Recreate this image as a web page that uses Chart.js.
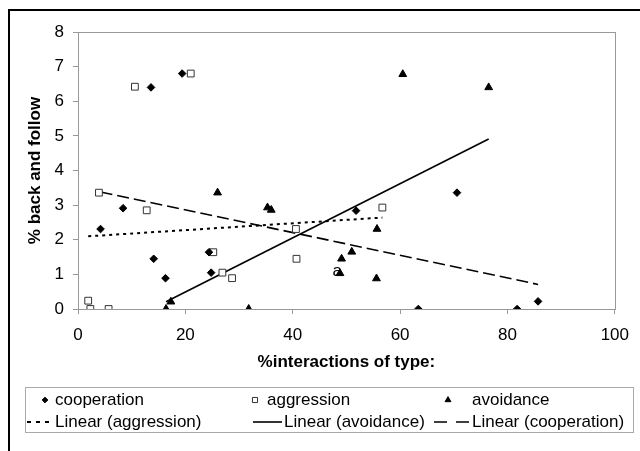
<!DOCTYPE html>
<html>
<head>
<meta charset="utf-8">
<script src="https://cdn.jsdelivr.net/npm/chart.js@4/dist/chart.umd.min.js"></script>
<style>
  html, body { margin: 0; padding: 0; background: #fff; }
  #wrap { width: 640px; height: 451px; }
</style>
</head>
<body>
<div id="wrap"><canvas id="chart" width="640" height="451"></canvas></div>
<script>
// values
const coopX = [19.4, 13.6, 8.4, 4.2, 14.1, 24.4, 16.3, 24.8, 51.8, 70.6, 63.4, 81.8, 85.7];
const coopY = [6.8, 6.4, 2.91, 2.31, 1.45, 1.64, 0.89, 1.05, 2.84, 3.36, 0, 0, 0.22];

const aggrX = [21.0, 10.6, 3.9, 12.8, 25.2, 26.9, 28.7, 1.9, 2.3, 5.7, 40.6, 40.7, 56.7];
const aggrY = [6.8, 6.42, 3.36, 2.85, 1.64, 1.05, 0.89, 0.24, 0, 0, 2.31, 1.45, 2.93];

const avoidX = [60.5, 76.5, 26.0, 35.3, 36.0, 16.4, 17.3, 31.8, 55.7, 51.0, 49.1, 48.8, 55.6];
const avoidY = [6.78, 6.4, 3.36, 2.93, 2.86, 0, 0.21, 0, 2.31, 1.65, 1.45, 1.03, 0.88];

// trend line end points
const aggrTrendX = [1.9, 56.7];
const aggrTrendY = [2.10, 2.64];
const avoidTrendX = [16.4, 76.5];
const avoidTrendY = [0.21, 4.91];
const coopTrendX = [4.2, 85.7];
const coopTrendY = [3.38, 0.71];

const xTicks = [0, 20, 40, 60, 80, 100];
const yTicks = [0, 1, 2, 3, 4, 5, 6, 7, 8];

const noteText = 'a';
const noteX = 48.3;
const noteY = 1.08;

const pts = (xs, ys) => xs.map((x, i) => ({ x: x, y: ys[i] }));

Chart.defaults.font.family = '"Liberation Sans", Arial, sans-serif';
Chart.defaults.color = '#000';

const frame = {
    id: 'frame',
    beforeDraw(chart) {
        const { ctx, chartArea: a } = chart;
        ctx.save();
        ctx.fillStyle = '#fff';
        ctx.fillRect(0, 0, chart.width, chart.height);
        // outer frame (only top and left are in view)
        ctx.strokeStyle = '#000';
        ctx.lineWidth = 2;
        ctx.beginPath();
        ctx.moveTo(9, chart.height);
        ctx.lineTo(9, 10);
        ctx.lineTo(chart.width, 10);
        ctx.stroke();
        // plot area border
        ctx.strokeStyle = '#999';
        ctx.lineWidth = 1;
        ctx.strokeRect(Math.round(a.left) + 0.5, Math.round(a.top) + 0.5, Math.round(a.width), Math.round(a.height));
        ctx.restore();
    },
    afterDatasetsDraw(chart) {
        const { ctx, scales } = chart;
        ctx.save();
        ctx.font = '17px "Liberation Sans", Arial, sans-serif';
        ctx.fillStyle = '#000';
        ctx.textAlign = 'center';
        ctx.textBaseline = 'middle';
        ctx.fillText(noteText, scales.x.getPixelForValue(noteX), scales.y.getPixelForValue(noteY));
        ctx.restore();
    },
    afterDraw(chart) {
        const ctx = chart.ctx;
        const sets = chart.data.datasets;
        ctx.save();
        ctx.strokeStyle = '#aaa';
        ctx.lineWidth = 1;
        ctx.strokeRect(25.5, 387.5, 608, 45);

        const slots = [
            { mx: 45, tx: 55, y: 400 },
            { mx: 255, tx: 267, y: 400 },
            { mx: 448, tx: 472, y: 400 },
            { l0: 27, l1: 51, tx: 55, y: 422 },
            { l0: 253, l1: 282, tx: 284, y: 422 },
            { l0: 434, l1: 469, tx: 472, y: 422 }
        ];
        ctx.font = '17px "Liberation Sans", Arial, sans-serif';
        ctx.textBaseline = 'middle';
        ctx.textAlign = 'left';
        sets.forEach((ds, i) => {
            const s = slots[i];
            if (ds.showLine) {
                ctx.save();
                ctx.strokeStyle = '#000';
                ctx.lineWidth = ds.borderWidth;
                ctx.setLineDash(ds.legendDash || []);
                ctx.beginPath();
                ctx.moveTo(s.l0, s.y);
                ctx.lineTo(s.l1, s.y);
                ctx.stroke();
                ctx.restore();
            } else {
                ctx.fillStyle = ds.backgroundColor;
                ctx.strokeStyle = ds.borderColor;
                ctx.lineWidth = 1;
                Chart.helpers.drawPoint(ctx, {
                    pointStyle: ds.pointStyle,
                    radius: ds.pointRadius * 0.75,
                    rotation: 0,
                    borderWidth: 1
                }, s.mx, s.y);
            }
            ctx.fillStyle = '#000';
            ctx.fillText(ds.label, s.tx, s.y);
        });
        ctx.restore();
    }
};

new Chart(document.getElementById('chart'), {
    type: 'scatter',
    data: {
        datasets: [
            {
                label: 'cooperation',
                data: pts(coopX, coopY),
                pointStyle: 'rectRot',
                pointRadius: 3.8,
                backgroundColor: '#000',
                borderColor: '#000',
                borderWidth: 1
            },
            {
                label: 'aggression',
                data: pts(aggrX, aggrY),
                pointStyle: 'rect',
                pointRadius: 4.8,
                backgroundColor: '#fff',
                borderColor: '#333',
                borderWidth: 1
            },
            {
                label: 'avoidance',
                data: pts(avoidX, avoidY),
                pointStyle: 'triangle',
                pointRadius: 4.5,
                backgroundColor: '#000',
                borderColor: '#000',
                borderWidth: 1
            },
            {
                label: 'Linear (aggression)',
                data: pts(aggrTrendX, aggrTrendY),
                showLine: true,
                pointRadius: 0,
                borderColor: '#000',
                borderWidth: 2,
                borderDash: [3, 4],
                legendDash: [4, 5]
            },
            {
                label: 'Linear (avoidance)',
                data: pts(avoidTrendX, avoidTrendY),
                showLine: true,
                pointRadius: 0,
                borderColor: '#000',
                borderWidth: 1.6
            },
            {
                label: 'Linear (cooperation)',
                data: pts(coopTrendX, coopTrendY),
                showLine: true,
                pointRadius: 0,
                borderColor: '#000',
                borderWidth: 1.6,
                borderDash: [12, 5],
                legendDash: [13, 9]
            }
        ]
    },
    options: {
        responsive: false,
        animation: false,
        events: [],
        layout: { padding: { top: 32, right: 19, bottom: 78, left: 0 } },
        plugins: {
            legend: { display: false },
            tooltip: { enabled: false }
        },
        scales: {
            x: {
                type: 'linear',
                min: 0,
                max: 100,
                afterBuildTicks: s => { s.ticks = xTicks.map(v => ({ value: v })); },
                afterFit: s => { s.height = 64; },
                grid: { display: true, drawOnChartArea: false, drawTicks: true, tickLength: 5, color: '#999' },
                border: { display: false },
                ticks: { padding: 11, maxRotation: 0, font: { size: 17 } },
                title: {
                    display: true,
                    text: '%interactions of type:',
                    font: { size: 17, weight: 'bold' },
                    padding: { top: 0, bottom: 0 }
                }
            },
            y: {
                type: 'linear',
                min: 0,
                max: 8,
                afterBuildTicks: s => { s.ticks = yTicks.map(v => ({ value: v })); },
                afterFit: s => { s.width = 78; },
                grid: { display: true, drawOnChartArea: false, drawTicks: true, tickLength: 5, color: '#999' },
                border: { display: false },
                ticks: { padding: 9, font: { size: 17 } },
                title: {
                    display: true,
                    text: '% back and follow',
                    font: { size: 17, weight: 'bold' },
                    padding: { top: 25, bottom: 0 }
                }
            }
        }
    },
    plugins: [frame]
});
</script>
</body>
</html>
